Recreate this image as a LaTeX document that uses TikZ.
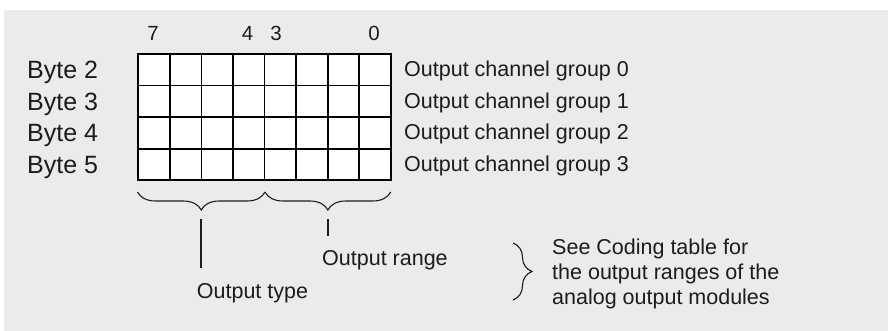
\documentclass[tikz,border=0pt]{standalone}
\usepackage{fontspec}
\setmainfont{Liberation Sans}
\usetikzlibrary{decorations.pathreplacing}
\definecolor{bgc}{HTML}{EBEBEB}
\definecolor{txt}{HTML}{1C1C1C}
\begin{document}
\begin{tikzpicture}[x=1pt,y=-1pt,
  lbl/.style={inner sep=0pt, anchor=base west, text=txt, font=\fontsize{21.5}{25}\selectfont},
  bytelbl/.style={inner sep=0pt, anchor=base west, text=txt, font=\fontsize{25}{30}\selectfont},
  bitnum/.style={inner sep=0pt, anchor=base, text=txt, font=\fontsize{20.5}{24}\selectfont},
  gridline/.style={line width=1.8pt, draw=black},
  bracestyle/.style={decorate, decoration={brace, amplitude=18pt}, line width=1.1pt, draw=txt},
  connector/.style={line width=1.6pt, draw=txt}]
\useasboundingbox (0,0) rectangle (888,331);
\fill[bgc] (4,10) rectangle (888,331);

% register grid
\fill[white] (138.3,54) rectangle (390.7,180.3);
\foreach \i in {0,...,8} {
  \draw[gridline] ({138.3+\i*31.55},54) -- ({138.3+\i*31.55},180.3);
}
\foreach \j in {0,...,4} {
  \draw[gridline] (137.4,{54+\j*31.575}) -- (391.6,{54+\j*31.575});
}

% bit numbers
\node[bitnum] (n7) at (153,41) {7};
\node[bitnum] (n4) at (247.6,41) {4};
\node[bitnum] (n3) at (276,41) {3};
\node[bitnum] (n0) at (374,41) {0};

% byte labels
\node[bytelbl] (b2) at (27,78.6) {Byte 2};
\node[bytelbl] (b3) at (27,110.2) {Byte 3};
\node[bytelbl] (b4) at (27,141.7) {Byte 4};
\node[bytelbl] (b5) at (27,173.3) {Byte 5};

% channel group labels
\node[lbl] (g0) at (404,76.9) {Output channel group 0};
\node[lbl] (g1) at (404,108.4) {Output channel group 1};
\node[lbl] (g2) at (404,139.9) {Output channel group 2};
\node[lbl] (g3) at (404,171.5) {Output channel group 3};

% braces under the grid
\coordinate (br1a) at (137.5,192);
\coordinate (br1b) at (265,192);
\coordinate (br2a) at (265,192);
\coordinate (br2b) at (390.7,192);
\draw[bracestyle, decoration={mirror}] (br1a) -- (br1b);
\draw[bracestyle, decoration={mirror}] (br2a) -- (br2b);

% leader lines
\coordinate (l1a) at (201,219);
\coordinate (l1b) at (201,268);
\coordinate (l2a) at (328,219);
\coordinate (l2b) at (328,236);
\draw[connector] (l1a) -- (l1b);
\draw[connector] (l2a) -- (l2b);

\node[lbl] (otype) at (196.7,298) {Output type};
\node[lbl] (orange) at (322,265) {Output range};

% right brace and note
\coordinate (br3a) at (513,243);
\coordinate (br3b) at (513,300);
\draw[bracestyle, decoration={amplitude=19pt}] (br3a) -- (br3b);
\node[lbl] (note1) at (552,254) {See Coding table for};
\node[lbl] (note2) at (552,279) {the output ranges of the};
\node[lbl] (note3) at (552,304) {analog output modules};
\end{tikzpicture}
\end{document}
